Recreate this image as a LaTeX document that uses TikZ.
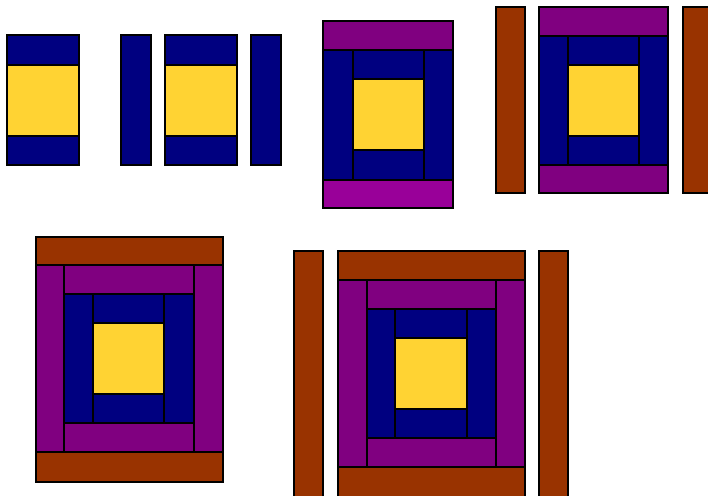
\documentclass[tikz,border=0pt]{standalone}
\definecolor{qnavy}{HTML}{000080}
\definecolor{qyellow}{HTML}{FFD333}
\definecolor{qpurple}{HTML}{800080}
\definecolor{qmagenta}{HTML}{990099}
\definecolor{qbrown}{HTML}{993300}
\begin{document}
\begin{tikzpicture}[x=1pt,y=-1pt,
  piece/.style={draw=black,line width=1.4pt},
  nv/.style={piece,fill=qnavy},
  yl/.style={piece,fill=qyellow},
  pu/.style={piece,fill=qpurple},
  mg/.style={piece,fill=qmagenta},
  br/.style={piece,fill=qbrown}]
\useasboundingbox (0,0) rectangle (708,495);
% group 1
\draw[nv] (7,35) rectangle (79,65);
\draw[yl] (7,65) rectangle (79,136);
\draw[nv] (7,136) rectangle (79,165);
% group 2
\draw[nv] (121,35) rectangle (151,165);
\draw[nv] (165,35) rectangle (237,65);
\draw[yl] (165,65) rectangle (237,136);
\draw[nv] (165,136) rectangle (237,165);
\draw[nv] (251,35) rectangle (281,165);
% group 3
\draw[pu] (323,21) rectangle (453,50);
\draw[nv] (323,50) rectangle (353,180);
\draw[nv] (353,50) rectangle (424,79);
\draw[yl] (353,79) rectangle (424,150);
\draw[nv] (353,150) rectangle (424,180);
\draw[nv] (424,50) rectangle (453,180);
\draw[mg] (323,180) rectangle (453,208);
% group 4
\draw[br] (496,7) rectangle (525,193);
\draw[pu] (539,7) rectangle (668,36);
\draw[nv] (539,36) rectangle (568,165);
\draw[nv] (568,36) rectangle (639,65);
\draw[yl] (568,65) rectangle (639,136);
\draw[nv] (568,136) rectangle (639,165);
\draw[nv] (639,36) rectangle (668,165);
\draw[pu] (539,165) rectangle (668,193);
\draw[br] (683,7) rectangle (712,193);
% group 5
\draw[br] (36,237) rectangle (223,265);
\draw[pu] (36,265) rectangle (64,452);
\draw[pu] (64,265) rectangle (194,294);
\draw[nv] (64,294) rectangle (93,423);
\draw[nv] (93,294) rectangle (164,323);
\draw[yl] (93,323) rectangle (164,394);
\draw[nv] (93,394) rectangle (164,423);
\draw[nv] (164,294) rectangle (194,423);
\draw[pu] (64,423) rectangle (194,452);
\draw[pu] (194,265) rectangle (223,452);
\draw[br] (36,452) rectangle (223,482);
% group 6
\draw[br] (294,251) rectangle (323,500);
\draw[br] (338,251) rectangle (525,280);
\draw[pu] (338,280) rectangle (367,467);
\draw[pu] (367,280) rectangle (496,309);
\draw[nv] (367,309) rectangle (395,438);
\draw[nv] (395,309) rectangle (467,338);
\draw[yl] (395,338) rectangle (467,409);
\draw[nv] (395,409) rectangle (467,438);
\draw[nv] (467,309) rectangle (496,438);
\draw[pu] (367,438) rectangle (496,467);
\draw[pu] (496,280) rectangle (525,467);
\draw[br] (338,467) rectangle (525,500);
\draw[br] (539,251) rectangle (568,500);
\end{tikzpicture}
\end{document}
